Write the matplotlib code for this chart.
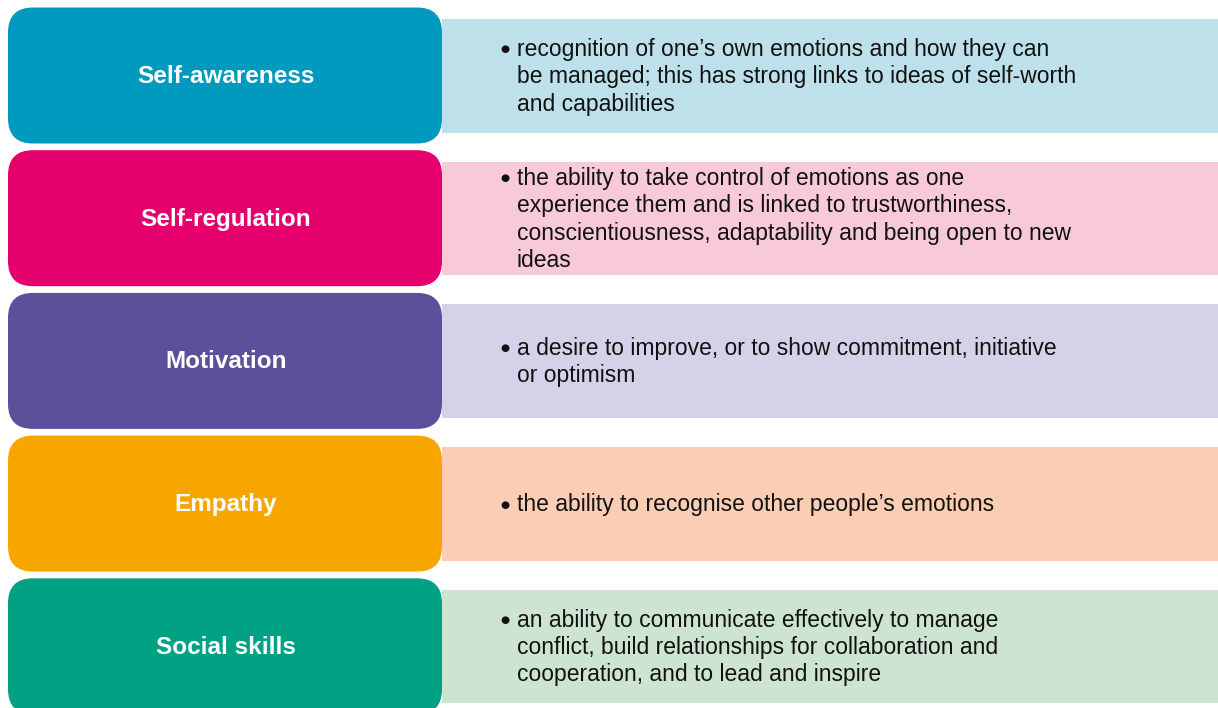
import matplotlib.pyplot as plt
from matplotlib.patches import FancyBboxPatch, Rectangle

plt.rcParams['font.family'] = ['Liberation Sans', 'DejaVu Sans']

labels = ['Self-awareness', 'Self-regulation', 'Motivation', 'Empathy', 'Social skills']
descriptions = [
    ['recognition of one\u2019s own emotions and how they can',
     'be managed; this has strong links to ideas of self-worth',
     'and capabilities'],
    ['the ability to take control of emotions as one',
     'experience them and is linked to trustworthiness,',
     'conscientiousness, adaptability and being open to new',
     'ideas'],
    ['a desire to improve, or to show commitment, initiative',
     'or optimism'],
    ['the ability to recognise other people\u2019s emotions'],
    ['an ability to communicate effectively to manage',
     'conflict, build relationships for collaboration and',
     'cooperation, and to lead and inspire'],
]
dark_colors = ['#009abf', '#e5006d', '#5c509a', '#f7a600', '#00a283']
light_colors = ['#bde0eb', '#f8c9d7', '#d5d1e8', '#facdb4', '#cde5d0']

W, H = 1218, 708
fig = plt.figure(figsize=(W / 100, H / 100), dpi=100)
ax = fig.add_axes([0, 0, 1, 1])
ax.set_xlim(0, W)
ax.set_ylim(H, 0)
ax.axis('off')

row_step = 142.7
box_top0 = 7.5
box_h = 136
line_gap = 27.3

for i, (lab, desc) in enumerate(zip(labels, descriptions)):
    top = box_top0 + i * row_step
    # light description panel
    rt, rb = top + 11.5, top + 125
    ax.add_patch(Rectangle((442, rt), W - 442, rb - rt,
                           facecolor=light_colors[i], edgecolor='none'))
    # rounded label box
    ax.add_patch(FancyBboxPatch((8 + 25, top + 25), 434 - 50, box_h - 50,
                                boxstyle='round,pad=25,rounding_size=25',
                                facecolor=dark_colors[i], edgecolor='none'))
    ax.text(226, top + box_h / 2 + 1, lab, color='white', fontsize=17.5,
            fontweight='bold', ha='center', va='center')
    cy = (rt + rb) / 2
    n = len(desc)
    for j, line in enumerate(desc):
        y = cy + (j - (n - 1) / 2) * line_gap
        if j == 0:
            ax.text(505, y + 1, '\u25cf', fontsize=7.5, ha='center', va='center',
                    color='#111111', family='DejaVu Sans')
        ax.text(517, y + 1, line, fontsize=16.5, ha='left', va='center',
                color='#111111')

fig.savefig('out.png', dpi=100)
